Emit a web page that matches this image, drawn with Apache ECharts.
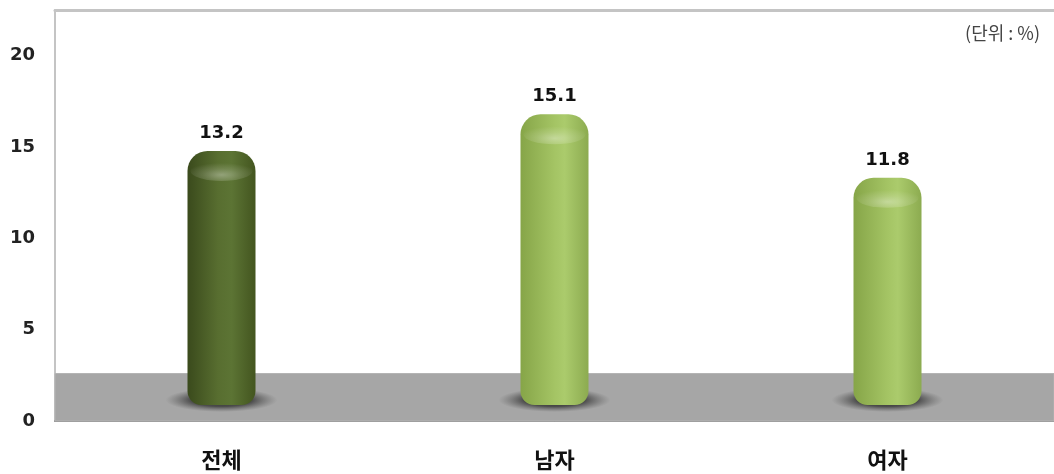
<!DOCTYPE html>
<html><head><meta charset="utf-8">
<script src="https://cdn.jsdelivr.net/npm/echarts@6/dist/echarts.min.js"></script>
<style>html,body{margin:0;padding:0;background:#fff}#c{width:1054px;height:474px}</style>
</head><body><div id="c"></div>
<script>
var categories = ['전체', '남자', '여자'];
var values = [13.2, 15.1, 11.8];
var yTicks = [0, 5, 10, 15, 20];
var unitText = '(단위 : %)';

var darkGrad = new echarts.graphic.LinearGradient(0, 0, 1, 0, [
  {offset: 0, color: '#3a4a1c'}, {offset: 0.45, color: '#586e30'},
  {offset: 0.65, color: '#5c7434'}, {offset: 1, color: '#43551f'}]);
var lightGrad = new echarts.graphic.LinearGradient(0, 0, 1, 0, [
  {offset: 0, color: '#86a548'}, {offset: 0.5, color: '#a4c464'},
  {offset: 0.65, color: '#abcb6c'}, {offset: 1, color: '#8cab50'}]);
var barColors = [darkGrad, lightGrad, lightGrad];

var chart = echarts.init(document.getElementById('c'));
chart.setOption({
  animation: false,
  title: {text: unitText, right: 9, top: 19,
    textStyle: {fontSize: 18, fontWeight: 'normal', color: '#444', fontFamily: 'Noto Sans CJK KR'}},
  grid: [
    {left: 55, right: 0, top: 10, bottom: 53},
    {left: 55, right: 0, top: 20, bottom: 69}
  ],
  xAxis: [
    {type: 'category', gridIndex: 0, data: categories,
      axisLine: {show: true, lineStyle: {color: '#8a8a8a', width: 2}}, axisTick: {show: false},
      axisLabel: {margin: 28, fontSize: 22, color: '#111', fontFamily: 'Noto Sans CJK KR', fontWeight: 'bold'}},
    {type: 'category', gridIndex: 0, position: 'top', data: categories,
      axisLine: {show: true, lineStyle: {color: '#c4c4c4', width: 3}}, axisTick: {show: false},
      axisLabel: {show: false}},
    {type: 'category', gridIndex: 1, data: categories, show: false}
  ],
  yAxis: [
    {type: 'value', gridIndex: 0, min: 0, max: 22.5, interval: 5,
      axisLine: {show: true, lineStyle: {color: '#c4c4c4', width: 2}}, axisTick: {show: false}, splitLine: {show: false},
      axisLabel: {margin: 20, fontSize: 18, fontWeight: 'bold', color: '#222', fontFamily: 'DejaVu Sans',
        formatter: function (v) { return yTicks.indexOf(v) >= 0 ? String(v) : ''; }}},
    {type: 'value', gridIndex: 1, min: 0, max: 20, show: false}
  ],
  series: [
    {type: 'bar', xAxisIndex: 0, yAxisIndex: 0, data: ['-', '-', '-'], z: 1,
      markArea: {silent: true, itemStyle: {color: '#a6a6a6', borderColor: '#b4b4b4', borderWidth: 1},
        data: [[{yAxis: 0}, {yAxis: 2.6}]]}},
    {type: 'pictorialBar', xAxisIndex: 2, yAxisIndex: 1, z: 3, symbol: 'circle',
      symbolSize: [112, 24], symbolPosition: 'start', symbolOffset: [0, 7], silent: true,
      data: values,
      itemStyle: {color: new echarts.graphic.RadialGradient(0.5, 0.5, 0.5, [
        {offset: 0, color: 'rgba(20,20,20,0.95)'}, {offset: 0.55, color: 'rgba(40,40,40,0.7)'},
        {offset: 1, color: 'rgba(80,80,80,0)'}])}},
    {type: 'bar', xAxisIndex: 2, yAxisIndex: 1, barWidth: 68, z: 5,
      data: values.map(function (v, i) {
        return {value: v, itemStyle: {color: barColors[i]}};
      }),
      itemStyle: {borderRadius: [20, 20, 14, 14]},
      label: {show: true, position: 'top', distance: 9, fontSize: 18, fontWeight: 'bold',
        color: '#111', fontFamily: 'DejaVu Sans'}},
    {type: 'pictorialBar', xAxisIndex: 2, yAxisIndex: 1, z: 6, symbol: 'circle',
      symbolSize: [62, 20], symbolPosition: 'end', symbolOffset: [0, '50%'], silent: true,
      data: values,
      itemStyle: {color: new echarts.graphic.RadialGradient(0.5, 0.7, 0.6, [
        {offset: 0, color: 'rgba(255,255,255,0.35)'}, {offset: 0.5, color: 'rgba(255,255,255,0.15)'},
        {offset: 1, color: 'rgba(255,255,255,0)'}])}}
  ]
});
</script></body></html>
